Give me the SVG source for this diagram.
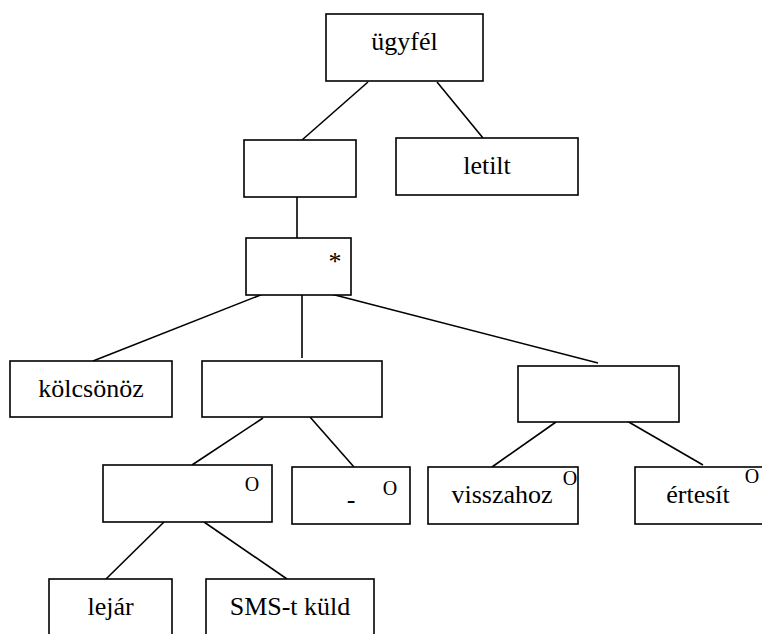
<svg xmlns="http://www.w3.org/2000/svg" width="762" height="634" viewBox="0 0 762 634">
<style>
.b{fill:#fff;stroke:#000;stroke-width:1.6}
#connectors line{stroke:#000;stroke-width:1.6}
</style>
<rect width="762" height="634" fill="#fff"/>
<g id="connectors">
<line x1="368" y1="82" x2="302" y2="140"/>
<line x1="437" y1="82" x2="483" y2="138"/>
<line x1="297" y1="197" x2="297" y2="238"/>
<line x1="263" y1="294" x2="93" y2="361"/>
<line x1="302" y1="295" x2="302" y2="358"/>
<line x1="331" y1="294" x2="598" y2="363"/>
<line x1="263" y1="418" x2="192" y2="465"/>
<line x1="310" y1="417" x2="354" y2="467"/>
<line x1="556" y1="422" x2="492" y2="467"/>
<line x1="627" y1="421" x2="703" y2="465"/>
<line x1="164" y1="522" x2="106" y2="579"/>
<line x1="204" y1="522" x2="287" y2="579"/>
</g>
<g font-family="Liberation Serif, Times New Roman, serif" fill="#000" text-anchor="middle">
<g id="ugyfel"><rect class="b" x="326" y="14" width="157" height="67"/><text font-size="26" x="404.5" y="50">ügyfél</text></g>
<g id="seq1"><rect class="b" x="244" y="140" width="112" height="57"/></g>
<g id="letilt"><rect class="b" x="396" y="138" width="182" height="57"/><text font-size="26" x="487" y="174">letilt</text></g>
<g id="iter"><rect class="b" x="246" y="238" width="105" height="57"/><text font-size="26" x="335" y="270">*</text></g>
<g id="kolcsonoz"><rect class="b" x="10" y="361" width="162" height="56"/><text font-size="26" x="91" y="397">kölcsönöz</text></g>
<g id="seq2"><rect class="b" x="202" y="361" width="180" height="56"/></g>
<g id="seq3"><rect class="b" x="518" y="366" width="161" height="56"/></g>
<g id="sel1"><rect class="b" x="103" y="465" width="169" height="57"/><text font-size="20" x="252" y="491">O</text></g>
<g id="sel2"><rect class="b" x="292" y="467" width="118" height="57"/><text font-size="26" x="351" y="508">-</text><text font-size="20" x="390" y="495">O</text></g>
<g id="visszahoz"><rect class="b" x="428" y="467" width="150" height="57"/><text font-size="26" x="502" y="503">visszahoz</text><text font-size="20" x="570" y="485">O</text></g>
<g id="ertesit"><rect class="b" x="635" y="467" width="140" height="57"/><text font-size="26" x="698" y="503">értesít</text><text font-size="20" x="752" y="483">O</text></g>
<g id="lejar"><rect class="b" x="49" y="579" width="123" height="70"/><text font-size="26" x="110.5" y="615">lejár</text></g>
<g id="sms"><rect class="b" x="206" y="579" width="168" height="70"/><text font-size="26" x="290" y="615">SMS-t küld</text></g>
</g>
</svg>
